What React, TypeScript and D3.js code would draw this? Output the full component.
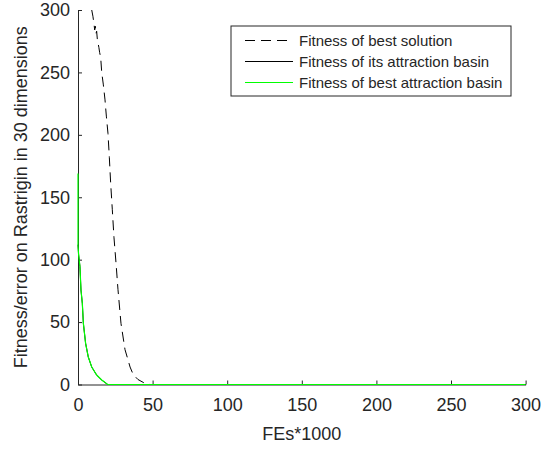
import React, { useEffect, useRef } from "react";
import * as d3 from "d3";

// FEs (thousands) and fitness values
const bestX = [9.2, 10, 10.8, 11.2, 11.6, 12, 12.5, 13, 14, 14.5, 15.2, 15.9, 17, 18.1, 19, 20.1, 21, 21.9, 23, 24.1, 25.5, 26.8, 28.8, 31.5, 34.9, 37, 40.2, 44, 48.3, 300];
const bestY = [300, 295, 288, 284, 287, 281, 283, 276, 270, 266, 262, 250, 240, 228, 215, 201, 182, 161, 140, 118, 97, 76, 49, 28, 14, 8, 4, 1.5, 0, 0];

const basinX = [0, 0.4, 1.3, 2, 2.9, 3.6, 5.1, 6.9, 9.2, 12.5, 15.9, 19.9, 300];
const basinY = [112, 104, 94.5, 75.7, 65, 49, 33, 22, 14, 7.6, 3.6, 0, 0];

const bestBasinX = [0, 0, 0.4, 1.3, 2, 2.9, 3.6, 5.1, 6.9, 9.2, 12.5, 15.9, 19.9, 300];
const bestBasinY = [169, 112, 104, 94.5, 75.7, 65, 49, 33, 22, 14, 7.6, 3.6, 0, 0];

const xTicks = [0, 50, 100, 150, 200, 250, 300];
const yTicks = [0, 50, 100, 150, 200, 250, 300];

const legendLabels = ["Fitness of best solution", "Fitness of its attraction basin", "Fitness of best attraction basin"];

const W = 552;
const H = 449;
const FONT = "'Liberation Sans', Arial, sans-serif";
const INK = "#262626";

export default function App() {
  const ref = useRef<SVGSVGElement>(null);

  useEffect(() => {
    const svg = d3.select(ref.current);
    svg.selectAll("*").remove();

    const x = d3.scaleLinear().domain([0, 300]).range([78, 525.6]);
    const y = d3.scaleLinear().domain([0, 300]).range([384.5, 10]);

    const g = svg.append("g");

    // axes, ticks pointing inward
    const xAxis = g.append("g").attr("transform", `translate(0,${y(0)})`)
      .call(d3.axisBottom(x).tickValues(xTicks).tickSizeInner(-4).tickSizeOuter(0).tickPadding(14));
    const yAxis = g.append("g").attr("transform", `translate(${x(0)},0)`)
      .call(d3.axisLeft(y).tickValues(yTicks).tickSizeInner(-4).tickSizeOuter(0).tickPadding(8));
    [xAxis, yAxis].forEach(a => {
      a.select(".domain").attr("stroke", INK);
      a.selectAll(".tick line").attr("stroke", INK);
      a.selectAll(".tick text").attr("fill", INK).style("font", `18px ${FONT}`);
    });

    const line = d3.line<[number, number]>().x(d => x(d[0])).y(d => y(d[1]));

    g.append("path")
      .datum(d3.zip(bestX, bestY) as [number, number][])
      .attr("d", line).attr("fill", "none").attr("stroke", "#000")
      .attr("stroke-width", 1).attr("stroke-dasharray", "10,6");

    g.append("path")
      .datum(d3.zip(basinX, basinY) as [number, number][])
      .attr("d", line).attr("fill", "none").attr("stroke", "#000").attr("stroke-width", 1);

    g.append("path")
      .datum(d3.zip(bestBasinX, bestBasinY) as [number, number][])
      .attr("d", line).attr("fill", "none").attr("stroke", "#00ff00").attr("stroke-width", 1.2);

    // axis labels
    svg.append("text")
      .attr("x", (x(0) + x(300)) / 2).attr("y", 440)
      .attr("text-anchor", "middle").attr("fill", INK)
      .style("font", `18px ${FONT}`).text("FEs*1000");

    svg.append("text")
      .attr("transform", `translate(27,${(y(0) + y(300)) / 2}) rotate(-90)`)
      .attr("text-anchor", "middle").attr("fill", INK)
      .style("font", `18px ${FONT}`).text("Fitness/error on Rastrigin in 30 dimensions");

    // legend
    const lg = svg.append("g").attr("transform", "translate(231,26)");
    lg.append("rect").attr("width", 280).attr("height", 70)
      .attr("fill", "#fff").attr("stroke", INK).attr("stroke-width", 1);
    const styles = [
      { c: "#000", dash: "10,6" },
      { c: "#000", dash: null },
      { c: "#00ff00", dash: null },
    ];
    legendLabels.forEach((lab, i) => {
      const cy = 14.5 + i * 21;
      lg.append("line").attr("x1", 14).attr("x2", 62).attr("y1", cy).attr("y2", cy)
        .attr("stroke", styles[i].c).attr("stroke-width", 1)
        .attr("stroke-dasharray", styles[i].dash);
      lg.append("text").attr("x", 68).attr("y", cy).attr("dy", "0.35em")
        .attr("fill", INK).style("font", `15px ${FONT}`).text(lab);
    });
  }, []);

  return (
    <svg ref={ref} width={W} height={H}
      style={{ position: "absolute", left: 0, top: 0, background: "#fff" }} />
  );
}
